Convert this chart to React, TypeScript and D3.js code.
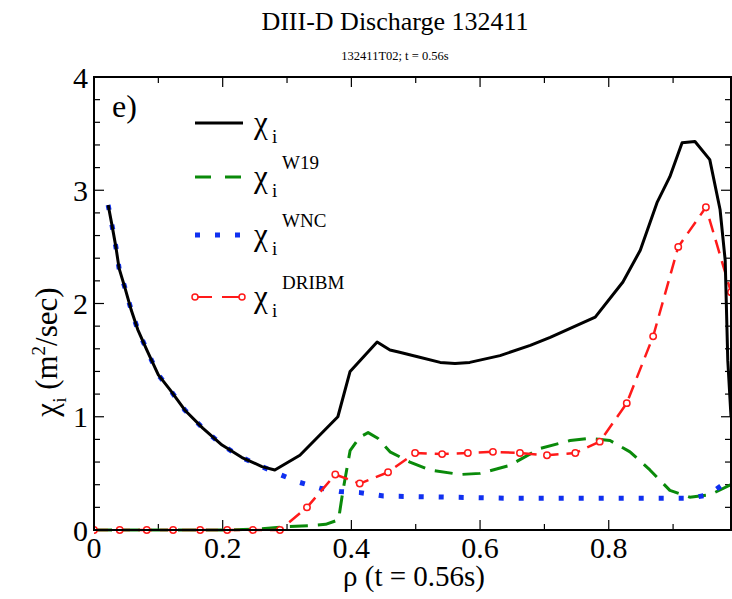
import React from "react";
import * as d3 from "d3";

// chi_i total (black)
const chiX = [0.022, 0.028, 0.034, 0.039, 0.048, 0.058, 0.068, 0.082, 0.1, 0.118, 0.141, 0.169, 0.199, 0.23, 0.261, 0.281,
  0.32, 0.379, 0.398, 0.44, 0.46, 0.475, 0.503, 0.538, 0.561, 0.584, 0.631, 0.678, 0.709, 0.779, 0.822, 0.849, 0.875,
  0.895, 0.914, 0.934, 0.957, 0.973, 0.981, 0.985, 0.99];
const chiY = [2.87, 2.69, 2.5, 2.31, 2.14, 1.94, 1.77, 1.59, 1.37, 1.24, 1.06, 0.9, 0.75, 0.64, 0.56, 0.53,
  0.66, 1.0, 1.4, 1.66, 1.59, 1.57, 1.53, 1.48, 1.47, 1.48, 1.54, 1.63, 1.7, 1.88, 2.19, 2.47, 2.89,
  3.12, 3.42, 3.43, 3.27, 2.83, 2.38, 1.5, 1.0];

// W19 (green dashed)
const w19X = [0, 0.1, 0.2, 0.26, 0.3, 0.34, 0.36, 0.38, 0.387, 0.398, 0.413, 0.426, 0.441, 0.46, 0.491, 0.522, 0.569,
  0.6, 0.646, 0.693, 0.74, 0.771, 0.802, 0.833, 0.864, 0.895, 0.926, 0.957, 0.99];
const w19Y = [0, 0, 0, 0.01, 0.03, 0.04, 0.05, 0.09, 0.35, 0.7, 0.82, 0.86, 0.81, 0.69, 0.6, 0.53, 0.49,
  0.5, 0.57, 0.72, 0.79, 0.81, 0.79, 0.69, 0.53, 0.35, 0.29, 0.31, 0.4];

// WNC (blue dotted)
const wncX = [0.022, 0.028, 0.034, 0.039, 0.048, 0.058, 0.068, 0.082, 0.1, 0.118, 0.141, 0.169, 0.199, 0.23, 0.261, 0.289,
  0.32, 0.351, 0.382, 0.413, 0.45, 0.55, 0.65, 0.75, 0.87, 0.926, 0.954, 0.99];
const wncY = [2.87, 2.69, 2.5, 2.31, 2.14, 1.94, 1.77, 1.59, 1.37, 1.24, 1.06, 0.9, 0.75, 0.64, 0.56, 0.49,
  0.42, 0.37, 0.34, 0.33, 0.3, 0.29, 0.28, 0.28, 0.28, 0.28, 0.31, 0.45];

// DRIBM (red dashed with circles)
const dribmX = [0, 0.04, 0.082, 0.123, 0.165, 0.207, 0.247, 0.289, 0.331, 0.375, 0.413, 0.457, 0.499, 0.541, 0.581,
  0.62, 0.662, 0.704, 0.748, 0.786, 0.828, 0.869, 0.908, 0.951, 0.99];
const dribmY = [0, 0, 0, 0, 0, 0, 0, 0, 0.2, 0.49, 0.41, 0.51, 0.68, 0.67, 0.68,
  0.69, 0.68, 0.66, 0.68, 0.78, 1.12, 1.71, 2.5, 2.85, 2.1];

const xTickLabels = ["0", "0.2", "0.4", "0.6", "0.8"];
const yTickLabels = ["0", "1", "2", "3", "4"];

const W = 732, H = 599;
const L = 94, R = 731, T = 77, B = 530;
const serif = "Liberation Serif, DejaVu Serif, Times New Roman, serif";

export default function App() {
  const x = d3.scaleLinear().domain([0, 0.99]).range([L, R]);
  const y = d3.scaleLinear().domain([0, 4]).range([B, T]);
  const line = d3.line<[number, number]>().x(d => x(d[0])).y(d => y(d[1]));
  const pts = (xs: number[], ys: number[]) => xs.map((v, i) => [v, ys[i]] as [number, number]);

  const xMinor = d3.range(0, 1.0001, 0.1);
  const yMinor = d3.range(0, 4.0001, 0.2);

  const legend = [
    { sup: "", color: "#000", dash: "", dy: 123 },
    { sup: "W19", color: "#0a8a0a", dash: "16,14", dy: 177 },
    { sup: "WNC", color: "#1030f0", dash: "5,15", dy: 235 },
    { sup: "DRIBM", color: "#ff1a1a", dash: "", dy: 297 },
  ];

  return (
    <svg width={W} height={H} style={{ display: "block", position: "absolute", left: 0, top: 0, fontFamily: serif }}>
      <rect width={W} height={H} fill="#fff" />
      <text x={395} y={30} textAnchor="middle" fontSize={26}>DIII-D Discharge 132411</text>
      <text x={395} y={60} textAnchor="middle" fontSize={12.5}>132411T02; t = 0.56s</text>

      <defs>
        <clipPath id="plotclip"><rect x={L} y={T - 5} width={R - L} height={B - T + 10} /></clipPath>
      </defs>

      {/* ticks */}
      {xMinor.map((v, i) => {
        const len = i % 2 === 0 ? 10 : 6;
        return (
          <g key={"xt" + i} stroke="#000" strokeWidth={1.2}>
            <line x1={x(v)} x2={x(v)} y1={B} y2={B - len} />
            <line x1={x(v)} x2={x(v)} y1={T} y2={T + len} />
          </g>
        );
      })}
      {yMinor.map((v, i) => {
        const len = i % 5 === 0 ? 10 : 6;
        return (
          <g key={"yt" + i} stroke="#000" strokeWidth={1.2}>
            <line x1={L} x2={L + len} y1={y(v)} y2={y(v)} />
            <line x1={R} x2={R - len} y1={y(v)} y2={y(v)} />
          </g>
        );
      })}

      <g clipPath="url(#plotclip)" fill="none" strokeLinejoin="round">
        <path d={line(pts(w19X, w19Y)) || ""} stroke="#0a8a0a" strokeWidth={3} strokeDasharray="18,10" />
        <path d={line(pts(wncX, wncY)) || ""} stroke="#1030f0" strokeWidth={5} strokeDasharray="5,15" />
        <path d={line(pts(dribmX, dribmY)) || ""} stroke="#ff1a1a" strokeWidth={2.5} strokeDasharray="14,8" />
        {dribmX.map((v, i) => (
          <circle key={"c" + i} cx={x(v)} cy={y(dribmY[i])} r={3.2} fill="#fff" stroke="#ff1a1a" strokeWidth={1.5} />
        ))}
        <path d={line(pts(chiX, chiY)) || ""} stroke="#000" strokeWidth={3} />
      </g>

      <rect x={L} y={T} width={R - L} height={B - T} fill="none" stroke="#000" strokeWidth={2} />

      {xTickLabels.map((t, i) => (
        <text key={"xl" + i} x={x(+t)} y={558} textAnchor="middle" fontSize={30}>{t}</text>
      ))}
      {yTickLabels.map((t, i) => (
        <text key={"yl" + i} x={88} y={y(+t)} dy="0.35em" textAnchor="end" fontSize={30}>{t}</text>
      ))}

      <text x={414} y={586} textAnchor="middle" fontSize={29}>ρ (t = 0.56s)</text>
      <text transform="translate(57,352) rotate(-90)" textAnchor="middle" fontSize={31}>
        χ<tspan fontSize={19} dy={9}>i</tspan><tspan dy={-9}> (m</tspan><tspan fontSize={19} dy={-12}>2</tspan><tspan dy={12}>/sec)</tspan>
      </text>

      <text x={112} y={117} fontSize={32}>e)</text>

      {legend.map((l, i) => (
        <g key={"lg" + i}>
          {i < 3 && (
            <line x1={195} x2={243} y1={l.dy} y2={l.dy} stroke={l.color} strokeWidth={i === 2 ? 5 : 3} strokeDasharray={l.dash} />
          )}
          {i === 3 && (
            <g>
              <line x1={195} x2={212} y1={l.dy} y2={l.dy} stroke={l.color} strokeWidth={2} />
              <line x1={222} x2={242} y1={l.dy} y2={l.dy} stroke={l.color} strokeWidth={2} />
              <circle cx={195} cy={l.dy} r={3} fill="#fff" stroke={l.color} strokeWidth={1.5} />
              <circle cx={242} cy={l.dy} r={3} fill="#fff" stroke={l.color} strokeWidth={1.5} />
            </g>
          )}
          <text x={254} y={l.dy + 10} fontSize={31}>χ</text>
          <text x={272} y={l.dy + 20} fontSize={19}>i</text>
          {l.sup && <text x={282} y={l.dy - 8} fontSize={19}>{l.sup}</text>}
        </g>
      ))}
    </svg>
  );
}
